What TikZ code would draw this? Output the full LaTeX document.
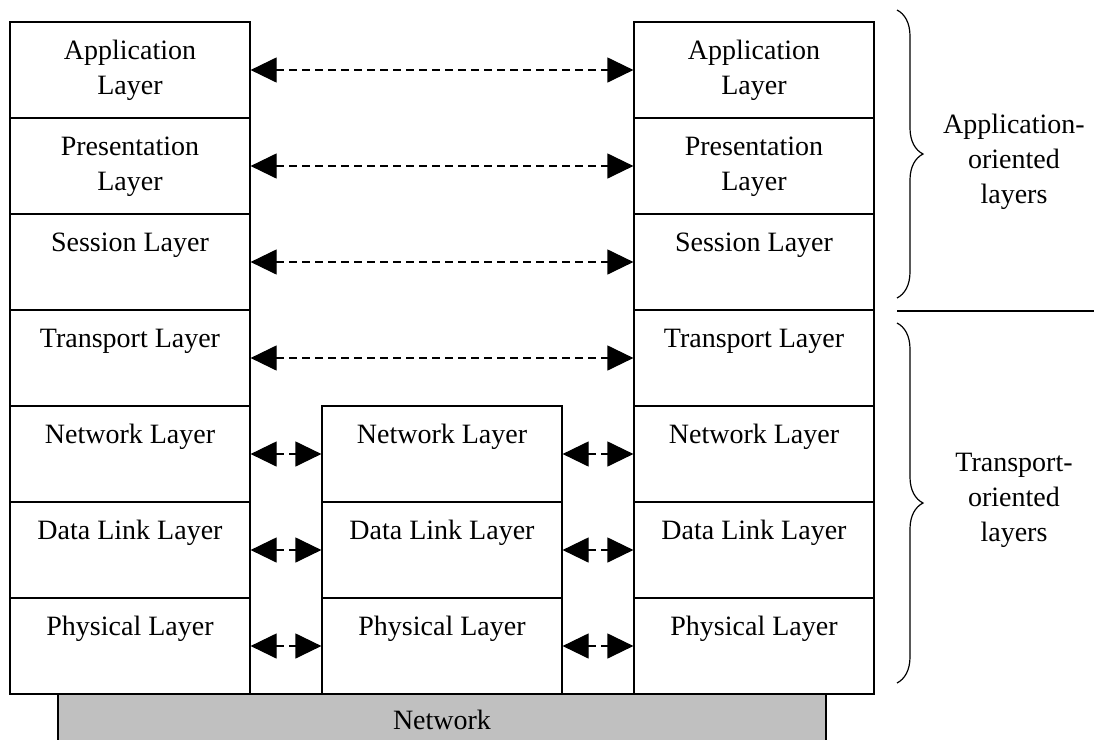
\documentclass[tikz,border=0pt]{standalone}
\usepackage{fontspec}
\setmainfont{Liberation Serif}
\usetikzlibrary{arrows.meta,decorations.pathreplacing}

\definecolor{netgray}{HTML}{C0C0C0}

\tikzset{
	layer/.style={draw, line width=0.6pt, minimum width=120pt, minimum height=48pt, inner sep=0pt, align=center, font=\fontsize{14}{17.5}\selectfont},
	peer/.style={line width=0.6pt, dash pattern=on 4pt off 2.5pt, {Triangle[length=13pt,width=12.5pt]}-{Triangle[length=13pt,width=12.5pt]}},
	sidetxt/.style={align=center, inner sep=0pt, font=\fontsize{14}{17.5}\selectfont},
	curly/.style={decorate, decoration={brace, amplitude=13pt}, line width=0.6pt}
}

\begin{document}
\begin{tikzpicture}[x=0.5pt, y=-0.5pt]
	\useasboundingbox (0,0) rectangle (1094,740);

	% the network underneath
	\node[draw, line width=0.6pt, fill=netgray, minimum width=384pt, minimum height=26pt, inner sep=0pt, font=\fontsize{14}{17.5}\selectfont] (net) at (442,720) {Network};

	% left end system
	\node[layer] (al) at (130,70) {\strut Application\\\strut Layer};
	\node[layer] (pl) at (130,166) {\strut Presentation\\\strut Layer};
	\node[layer] (sl) at (130,262) {\strut Session Layer\\\strut};
	\node[layer] (tl) at (130,358) {\strut Transport Layer\\\strut};
	\node[layer] (nl) at (130,454) {\strut Network Layer\\\strut};
	\node[layer] (dl) at (130,550) {\strut Data Link Layer\\\strut};
	\node[layer] (phl) at (130,646) {\strut Physical Layer\\\strut};

	% intermediate node
	\node[layer] (nm) at (442,454) {\strut Network Layer\\\strut};
	\node[layer] (dm) at (442,550) {\strut Data Link Layer\\\strut};
	\node[layer] (phm) at (442,646) {\strut Physical Layer\\\strut};

	% right end system
	\node[layer] (ar) at (754,70) {\strut Application\\\strut Layer};
	\node[layer] (pr) at (754,166) {\strut Presentation\\\strut Layer};
	\node[layer] (sr) at (754,262) {\strut Session Layer\\\strut};
	\node[layer] (tr) at (754,358) {\strut Transport Layer\\\strut};
	\node[layer] (nr) at (754,454) {\strut Network Layer\\\strut};
	\node[layer] (dr) at (754,550) {\strut Data Link Layer\\\strut};
	\node[layer] (phr) at (754,646) {\strut Physical Layer\\\strut};

	% end to end
	\draw[peer] (al) -- (ar);
	\draw[peer] (pl) -- (pr);
	\draw[peer] (sl) -- (sr);
	\draw[peer] (tl) -- (tr);

	% hop by hop
	\draw[peer] (nl) -- (nm);
	\draw[peer] (nm) -- (nr);
	\draw[peer] (dl) -- (dm);
	\draw[peer] (dm) -- (dr);
	\draw[peer] (phl) -- (phm);
	\draw[peer] (phm) -- (phr);

	% grouping on the right
	\draw[curly] (897,10) -- (897,298);
	\draw[curly] (897,323) -- (897,683);
	\draw[line width=0.6pt] (897,311) -- (1094,311);
	\node[sidetxt] (appside) at (1014,162) {Application-\\oriented\\layers};
	\node[sidetxt] (trside) at (1014,500) {Transport-\\oriented\\layers};
\end{tikzpicture}
\end{document}
